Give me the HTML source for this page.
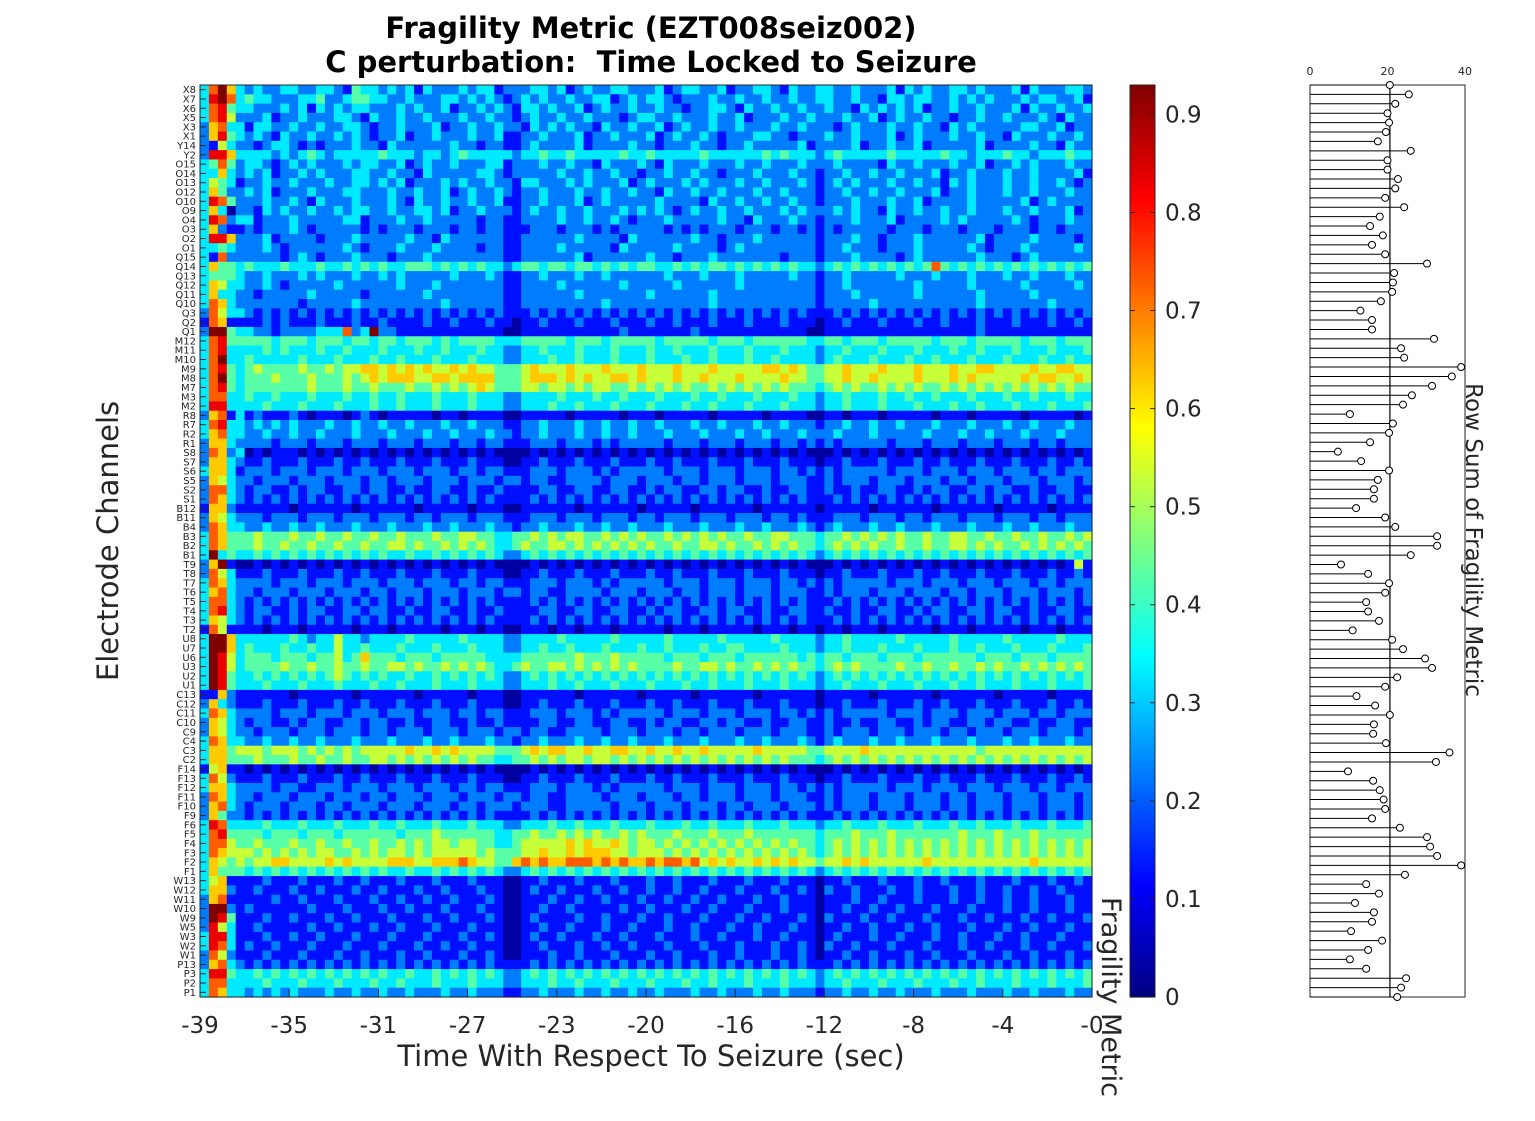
<!DOCTYPE html>
<html><head><meta charset="utf-8"><style>
body{margin:0;background:#fff;}
svg{display:block;font-family:"DejaVu Sans","Liberation Sans",sans-serif;}
</style></head><body>
<svg id="fig" width="1535" height="1121" viewBox="0 0 1535 1121">
<rect width="1535" height="1121" fill="#fff"/>
<text x="651" y="38" text-anchor="middle" font-size="29" font-weight="bold">Fragility Metric (EZT008seiz002)</text>
<text x="651" y="72" text-anchor="middle" font-size="29" font-weight="bold" xml:space="preserve">C perturbation:  Time Locked to Seizure</text>
<g id="heat"></g>
<g id="yt"></g>
<g id="xt"></g>
<text x="651" y="1066" text-anchor="middle" font-size="29" fill="#262626">Time With Respect To Seizure (sec)</text>
<text transform="translate(118,541) rotate(-90)" text-anchor="middle" font-size="29" fill="#262626">Electrode Channels</text>
<g id="cbar"></g>
<text transform="translate(1102,997) rotate(90)" text-anchor="middle" font-size="27" fill="#262626">Fragility Metric</text>
<g id="stem"></g>
<text transform="translate(1466,540) rotate(90)" text-anchor="middle" font-size="23" fill="#262626">Row Sum of Fragility Metric</text>
</svg>
<script>
const channels=["X8","X7","X6","X5","X3","X1","Y14","Y2","O15","O14","O13","O12","O10","O9","O4","O3","O2","O1","Q15","Q14","Q13","Q12","Q11","Q10","Q3","Q2","Q1","M12","M11","M10","M9","M8","M7","M3","M2","R8","R7","R2","R1","S8","S7","S6","S5","S2","S1","B12","B11","B4","B3","B2","B1","T9","T8","T7","T6","T5","T4","T3","T2","U8","U7","U6","U3","U2","U1","C13","C12","C11","C10","C9","C4","C3","C2","F14","F13","F12","F11","F10","F9","F6","F5","F4","F3","F2","F1","W13","W12","W11","W10","W9","W5","W3","W2","W1","P13","P3","P2","P1"];
const xTickLabels=["-39","-35","-31","-27","-23","-20","-16","-12","-8","-4","-0"];
const xTickCols=[0,10,20,30,40,50,60,70,80,90,100];
const cbarTicks=[0,0.1,0.2,0.3,0.4,0.5,0.6,0.7,0.8,0.9];
const rowSums=[20.6,25.5,22,20,20.4,19.6,17.5,26,20,20,22.7,22,19.4,24.3,18,15.5,18.8,16,19.4,30.2,21.7,21.4,21.2,18.3,13,16,16,32,23.5,24.3,39,36.6,31.5,26.3,24,10.3,21.4,20.4,15.5,7.2,13.2,20.4,17.5,16.5,16.5,11.9,19.4,22,32.8,32.8,26,8,15,20.4,19.4,14.5,15,17.8,11,21.2,24,29.7,31.5,22.5,19.4,12,16.8,20.6,16.5,16.3,19.6,36,32.5,9.8,16.3,18,19,19.4,16,23.2,30.2,31,32.8,39,24.5,14.5,17.8,11.6,16.5,16,10.6,18.6,15,10.3,14.5,24.8,23.5,22.5];
const cellRows=[
"37963 23223 32233 21433 23231 32223 23312 22332 31232 23322 23123 32231 22332 13223 32232 22313 23223 32322 23132 22332",
"38973 43322 23342 23443 32232 22332 32321 23232 23223 31232 33212 22322 32232 23223 32232 21332 33223 23232 22323 32231",
"37843 32223 23132 32332 22323 22312 23232 13323 22312 32232 23221 22332 13223 22322 32213 23232 31223 22322 23132 23223",
"37852 22312 23222 33213 22322 32223 22322 12322 32232 22123 32232 22322 31222 32232 22322 31232 23221 22322 32223 21322",
"26733 13322 32232 23321 22322 23122 32232 21323 23221 32232 23123 22322 32223 22322 21232 22322 32213 23222 22332 23122",
"26843 23213 22322 32321 22312 23222 32231 12232 22312 23222 31232 23212 22332 21222 32232 22312 32223 22322 13222 32232",
"21532 21233 21212 22322 13222 22232 21221 12322 22312 22232 21222 32212 23222 22312 22231 22322 31222 22312 22232 21322",
"28863 33323 23432 33333 43332 33234 33333 23343 34333 33433 43333 34333 33343 43332 34333 33433 33343 32333 43323 33433",
"34742 33212 32322 23233 22312 32232 22331 22232 23221 32223 21322 23222 32232 22322 23222 21322 32223 22312 23232 22322",
"33632 32312 23232 22332 23221 32222 23321 22222 32232 23221 22322 32212 22322 23221 22322 32232 22312 23222 32232 22231",
"35431 22322 32223 22332 32312 22323 22322 13322 23232 22312 32223 23222 32232 22321 23232 22322 32213 23222 32232 23212",
"36422 32312 22322 23322 23223 22312 32232 12232 22322 32232 21322 32232 22322 32221 22322 32232 22312 23222 32232 22322",
"38742 22322 32132 22322 23213 22322 32231 12232 22312 32222 23222 21322 32232 23221 22232 22322 31222 23222 22312 32222",
"36302 21323 22322 32332 23223 32312 23222 12322 32232 22323 23212 32232 23222 32322 23232 21322 32232 23222 32232 22312",
"38723 31222 32222 23312 22322 32222 21221 12222 32232 23212 22322 22232 21322 23221 22232 22312 22232 32222 23212 22322",
"36211 21222 32122 22212 12221 22212 21221 11222 12221 21222 22121 21222 12221 22121 21222 22122 21222 12221 22212 21222",
"38862 22312 22212 22322 22232 21322 22221 12222 22322 22132 22222 32212 22322 22221 22232 21222 32222 22312 22232 22212",
"33432 22321 22222 23212 22322 23222 21221 12222 32222 21322 22232 22212 32222 22221 22322 21222 32222 23212 22322 22232",
"31722 22221 23212 22322 21222 32222 22221 12222 22312 22222 32212 22322 22222 12221 22232 22212 32222 22322 21232 22222",
"36443 43334 33343 34343 43344 43434 34332 34434 43443 43434 43343 43443 43434 34332 34343 43434 34743 43434 34343 43434",
"34443 22322 23232 22322 32322 22232 22321 12232 22322 32222 22322 23222 32222 23221 22322 22232 22322 23222 32232 22322",
"36533 22321 22222 32222 22322 23222 22221 12222 32222 22322 22232 22222 32222 22221 22322 22222 32222 23222 22322 22232",
"36332 21222 22322 22212 22222 32222 22221 12222 22322 22222 32222 22322 22222 22221 22232 22222 32222 22322 22232 22222",
"37632 22222 21222 22322 22222 22322 22221 12222 22222 32222 22222 22322 22222 22221 22222 32222 22222 22322 22222 32222",
"27533 21212 12121 21212 12121 21212 12121 11212 12121 21212 12121 21212 12121 21211 12121 21212 12121 21212 12121 21212",
"17611 11212 11121 11211 21111 21121 11211 01121 11211 12111 21121 11211 12111 21110 11211 12111 21121 11211 12111 21121",
"29943 32212 22233 37239 22111 11111 11110 01111 11111 11211 11111 21111 11111 11100 11111 11111 11111 11211 11111 11111",
"37844 44434 44344 43443 44344 43434 44433 34444 43444 34444 43444 44344 43444 44433 44344 43444 44344 43444 44344 43444",
"37833 33434 33343 34333 43334 33433 34332 23343 33433 34333 43343 33433 34333 43332 33433 34333 43334 33433 34333 43334",
"37933 43333 34333 43334 33433 34333 43332 23334 33433 34333 43334 33433 34334 33332 34333 43334 33433 34333 43334 33433",
"37843 45444 45445 45566 56565 65565 65544 45655 56555 65556 55565 55655 55566 56544 55655 56555 65556 55665 55565 56655",
"37943 44454 44544 45456 56665 56656 66644 45666 56565 56656 55565 56555 65555 65544 55655 65555 65556 56555 55656 65565",
"37843 44444 44544 45445 44454 45454 56544 45545 54545 54454 54545 44545 45454 54443 45454 45454 54454 54545 45454 54544",
"37733 43343 33433 34334 33433 34333 43332 23333 43334 33433 34333 43343 33433 34332 33433 34334 33433 34333 43343 33433",
"38833 33433 34333 43334 33433 34333 43332 23334 33433 34333 43334 33433 34333 43332 33433 34333 43334 33433 34333 43334",
"26713 12111 21011 10121 01111 10110 11110 01111 10111 11011 10111 11011 11101 11100 11011 10111 11011 10111 11011 11101",
"37833 23232 32223 22322 32232 22322 32221 12232 22322 32232 23222 32232 22322 32221 22322 32232 22322 23222 32232 22322",
"36733 22322 32232 22322 23222 32232 22322 12232 22322 32232 22322 23222 32232 22322 23222 32222 23222 32232 22322 23222",
"26632 22212 22122 21222 12221 22212 21221 11222 12221 21222 22122 21222 12221 22121 21222 22122 21222 12221 22212 21222",
"27623 01011 10101 01010 10101 01010 10100 00101 01010 10101 01010 10101 01010 10100 01010 10101 01010 10101 01010 10101",
"26632 11211 12111 21121 11211 12111 21110 01121 11211 12111 21121 11211 12111 21110 11211 12111 21121 11211 12111 21121",
"36631 22212 22122 21222 12221 22212 21221 11222 12221 21222 22122 21222 12221 22121 21222 22122 21222 12221 22212 21222",
"26532 21222 12221 22212 21222 12221 22212 21221 12222 12221 22212 21222 12221 22211 21222 12221 22212 21222 12221 22212",
"27732 12211 21221 12212 21121 12211 21121 11122 11221 12211 21221 12212 21121 12211 21121 12211 21221 12212 21121 12211",
"27632 12121 21212 12121 21212 12121 21211 11212 12121 21212 12121 21212 12121 21211 12121 21212 12121 21212 12121 21212",
"16621 11111 01111 11011 11110 11111 01110 01111 11011 11110 11111 01111 11011 11110 11111 01111 11011 11110 11111 01111",
"26532 22122 21222 12221 22212 21222 12221 11222 12221 22212 21222 12221 22212 21211 12221 22212 21222 12221 22212 21222",
"27633 22322 32232 22322 23222 32232 22322 12232 22322 32232 22322 23222 32232 22321 23222 32232 22322 23222 32232 22322",
"37644 45444 54454 45445 44544 45445 54433 44545 45544 54545 44545 45454 45445 54443 44545 45454 45445 54454 45445 44545",
"37644 45445 44544 54454 45545 44545 45433 45445 54545 45454 54454 45545 44545 45443 45454 54454 45445 54545 44545 45454",
"39343 34343 43434 34343 43343 34343 43432 23434 34343 43434 34343 43434 34343 43432 34343 43434 34343 43434 34343 43434",
"26910 01010 10101 01010 10101 01010 10100 00101 01010 10101 01010 10101 01010 10100 01010 10101 01010 10101 01010 10151",
"27531 11211 12111 21121 11211 12111 21110 01121 11211 12111 21121 11211 12111 21110 11211 12111 21121 11211 12111 21121",
"37632 22212 22122 21222 12221 22212 21221 11222 12221 21222 22122 21222 12221 22121 21222 22122 21222 12221 22212 21222",
"36732 21222 12221 22212 21222 12221 22212 21221 12222 12221 22212 21222 12221 22211 21222 12221 22212 21222 12221 22212",
"37732 12121 21212 12121 21212 12121 21211 11212 12121 21212 12121 21212 12121 21211 12121 21212 12121 21212 12121 21212",
"37832 12211 21221 12212 21121 12211 21121 11122 11221 12211 21221 12212 21121 12211 21121 12211 21221 12212 21121 12211",
"36532 12121 21212 12121 21212 12121 21211 11212 12121 21212 12121 21212 12121 21211 12121 21212 12121 21212 12121 21212",
"17511 11011 10111 11011 10111 11011 10110 01110 11011 10111 11011 10111 11011 10110 11011 10111 11011 10111 11011 10111",
"39963 33333 43233 53323 33343 33334 33332 23333 43333 34333 33433 33343 33334 33332 33433 33343 33334 33333 43333 34333",
"39963 43334 33433 53343 33433 34333 43332 23343 34333 43334 33433 34334 43333 43332 33433 34333 43334 33433 34333 43334",
"39853 44434 44344 53464 44344 43444 44333 34444 44544 45444 44344 43444 34444 44343 44344 43444 34444 44344 43444 34444",
"39853 44445 44544 54454 45545 44545 45433 45445 54545 45454 44454 45545 44545 45443 45454 44454 45445 44545 44545 45454",
"39843 34343 43434 54343 43343 34343 43432 23434 34343 43434 34343 43434 34343 43432 34343 43434 34343 43434 34343 43434",
"39843 33433 34333 43334 33433 34333 43332 23334 33433 34333 43334 33433 34333 43332 33433 34333 43334 33433 34333 43334",
"11621 11111 01111 11011 11110 11111 01110 01111 11011 11110 11111 01111 11011 11110 11111 01111 11011 11110 11111 01111",
"26321 11211 12111 21121 11211 12111 21110 01121 11211 12111 21121 11211 12111 21110 11211 12111 21121 11211 12111 21121",
"37632 22212 22122 21222 12221 22212 21221 11222 12221 21222 22122 21222 12221 22121 21222 22122 21222 12221 22212 21222",
"26532 12211 21221 12212 21121 12211 21121 11122 11221 12211 21221 12212 21121 12211 21121 12211 21221 12212 21121 12211",
"26532 21222 12221 22212 21222 12221 22212 21221 12222 12221 22212 21222 12221 22211 21222 12221 22212 21222 12221 22212",
"37633 22322 32232 22322 23222 32232 22322 12232 22322 32232 22322 23222 32232 22321 23222 32232 22322 23222 32232 22322",
"36645 55455 54545 45455 55565 56565 55544 45656 65565 56655 65565 56555 55655 55544 55556 55555 55555 55455 55555 55555",
"36644 45444 54454 45445 54545 45454 54433 44545 45545 54545 45454 54545 45454 54443 45454 54545 45454 54545 45454 54545",
"15611 01010 10101 01010 10101 01010 10100 00101 01010 10101 01010 10101 01010 10100 01010 10101 01010 10101 01010 10101",
"37521 11211 12111 21121 11211 12111 21110 01121 11211 12111 21121 11211 12111 21110 11211 12111 21121 11211 12111 21121",
"36632 22212 21122 21222 12221 22212 21221 11222 12221 21222 22122 21222 12221 22121 21222 22122 21222 12221 22212 21222",
"27632 21222 12221 22212 21222 12221 22212 21221 12222 12221 22212 21222 12221 22211 21222 12221 22212 21222 12221 22212",
"26732 12221 22212 21222 12221 22212 21222 12221 12222 21222 12221 22212 21222 12221 21222 12221 22212 21222 12221 22212",
"26422 12121 21212 12121 21212 12121 21211 11212 12121 21212 12121 21212 12121 21211 12121 21212 12121 21212 12121 21212",
"38733 33433 34333 43334 33433 34333 43332 23334 33433 34333 43334 33433 34333 43332 33433 34333 43334 33433 34333 43334",
"37844 44344 43444 34444 44344 45444 44433 44544 54545 44545 44454 44544 45444 44443 44454 44544 44444 54445 44454 44444",
"37754 45444 54454 45445 44545 45545 54433 45555 56565 56545 54545 45454 54545 45443 45454 54545 45454 54545 45454 54545",
"37655 54545 45455 44545 45545 45555 54544 45565 56566 65545 55454 54545 45454 54543 45454 54545 45454 54545 45454 54545",
"36545 45566 55556 56555 56665 56667 65544 67676 67776 76766 76776 75656 55656 56554 55656 55555 56555 55555 55565 55555",
"36444 34343 43434 34343 43343 34343 43432 23434 34343 43434 34343 43434 34343 43432 34343 43434 34343 43434 34343 43434",
"35611 11211 12111 21121 11211 12111 21110 01121 11211 12111 21121 11211 12111 21110 11211 12111 21121 11211 12111 21121",
"36621 12111 21121 11211 21112 11211 12110 01211 21112 11211 21121 12111 21112 11210 21121 11211 21112 11211 21121 12111",
"26711 11121 12111 21112 11211 21121 11210 01112 11211 21112 11211 21121 11211 21110 11121 12111 21112 11211 21121 11211",
"29921 21111 11211 12111 21121 11211 12110 01121 12111 11211 21112 11211 12111 21110 11211 21121 11211 12111 21121 11211",
"29841 11211 21112 11211 12111 21121 11210 01211 11211 21112 11211 12111 21121 11210 21112 11211 12111 21121 11211 21112",
"28531 12111 11211 21112 11211 12111 21110 01121 12111 21121 11211 21112 11211 12110 11211 21112 11211 12111 21121 11211",
"38831 11211 21121 11211 12111 21112 11210 01211 21112 11211 12111 21121 11211 21110 12111 21121 11211 21112 11211 12111",
"38731 21121 11211 12111 21112 11211 21110 01121 11211 21121 11211 12111 21112 11210 21121 11211 12111 21121 11211 21112",
"27521 11211 12111 21121 11211 21112 11210 01112 11211 12111 21121 11211 21112 11210 11211 21112 11211 12111 21121 11211",
"26732 12121 21212 12121 21212 12121 21211 11212 12121 21212 12121 21212 12121 21211 12121 21212 12121 21212 12121 21212",
"38843 34343 43434 34343 43343 34343 43432 23434 34343 43434 34343 43434 34343 43432 34343 43434 34343 43434 34343 43434",
"37733 33433 34333 43334 33433 34333 43332 23334 33433 34333 43334 33433 34333 43332 33433 34333 43334 33433 34333 43334",
"37633 23232 32223 22322 32232 22322 32221 12232 22322 32232 23222 32232 22322 32221 22322 32232 22322 23222 32232 22322"
];
const NS="http://www.w3.org/2000/svg";
const NC=100, NR=channels.length;
const L=200,R=1092,T=85,B=997, VMAX=0.93;
function xS(c){return L+c*(R-L)/NC;}
function yS(r){return T+r*(B-T)/NR;}
function jet(t){t=Math.max(0,Math.min(1,t));
 const f=x=>Math.round(255*Math.max(0,Math.min(1,x)));
 return `rgb(${f(1.5-Math.abs(4*t-3))},${f(1.5-Math.abs(4*t-2))},${f(1.5-Math.abs(4*t-1))})`;}
function mk(tag,attrs,parent){const e=document.createElementNS(NS,tag);for(const k in attrs)e.setAttribute(k,attrs[k]);parent.appendChild(e);return e;}
const heat=document.getElementById('heat');
for(let r=0;r<NR;r++){
 let s=cellRows[r].replace(/\s/g,'');
 while(s.length<NC)s+='2';
 for(let c=0;c<NC;c++){
  const v=parseInt(s[c])/10+0.03;
  const e=mk('rect',{x:xS(c).toFixed(2),y:yS(r).toFixed(2),width:((R-L)/NC+0.6).toFixed(2),height:((B-T)/NR+0.6).toFixed(2),fill:jet(v/VMAX)},heat);
  
  
 }
}
mk('rect',{x:L,y:T,width:R-L,height:B-T,fill:'none',stroke:'#262626','stroke-width':1},heat);
const yt=document.getElementById('yt');
channels.forEach((ch,r)=>{
 const yc=yS(r+0.5);
 mk('line',{x1:L,x2:L+6,y1:yc,y2:yc,stroke:'#262626','stroke-width':1},yt);
 const t=mk('text',{x:L-4,y:yc+3.5,'text-anchor':'end','font-size':10,fill:'#262626'},yt);
 t.textContent=ch;
 
 
});
const xt=document.getElementById('xt');
xTickLabels.forEach((lab,i)=>{
 const x=xS(xTickCols[i]);
 mk('line',{x1:x,x2:x,y1:B,y2:B-8,stroke:'#262626','stroke-width':1},xt);
 const t=mk('text',{x:x,y:1033,'text-anchor':'middle','font-size':23,fill:'#262626'},xt);
 t.textContent=lab;
 
 
});
const cb=document.getElementById('cbar');
const CX=1130,CW=25;
for(let i=0;i<200;i++){
 const y0=B-(i+1)*(B-T)/200;
 mk('rect',{x:CX,y:y0.toFixed(2),width:CW,height:((B-T)/200+0.6).toFixed(2),fill:jet((i+0.5)/200)},cb);
}
mk('rect',{x:CX,y:T,width:CW,height:B-T,fill:'none',stroke:'#262626'},cb);
cbarTicks.forEach(v=>{
 const y=B-v/VMAX*(B-T);
 mk('line',{x1:CX,x2:CX+5,y1:y,y2:y,stroke:'#262626'},cb);
 mk('line',{x1:CX+CW-5,x2:CX+CW,y1:y,y2:y,stroke:'#262626'},cb);
 const t=mk('text',{x:CX+35,y:y+8,'font-size':23,fill:'#262626'},cb);
 t.textContent=v===0?'0':v.toFixed(1);
 
 
});
const st=document.getElementById('stem');
const SL=1310,SR=1465,SMAX=40;
function sx(v){return SL+v/SMAX*(SR-SL);}
function sy(i){return T+i*(B-T)/(NR-1);}
mk('rect',{x:SL,y:T,width:SR-SL,height:B-T,fill:'#fff',stroke:'#262626'},st);
[0,20,40].forEach(v=>{
 const t=mk('text',{x:sx(v),y:75,'text-anchor':'middle','font-size':11,fill:'#262626'},st);
 t.textContent=String(v);
 
 
});
const mean=rowSums.reduce((a,b)=>a+b,0)/rowSums.length;
const ml=mk('line',{x1:sx(mean),x2:sx(mean),y1:T,y2:B,stroke:'#000','stroke-width':1.2},st);


rowSums.forEach((v,i)=>{
 const y=sy(i);
 const l=mk('line',{x1:SL,x2:sx(v),y1:y,y2:y,stroke:'#000','stroke-width':1},st);
 
 
 const c=mk('circle',{cx:sx(v),cy:y,r:3.5,fill:'#fff',stroke:'#000','stroke-width':1},st);
 
 
});
</script>
</body></html>
